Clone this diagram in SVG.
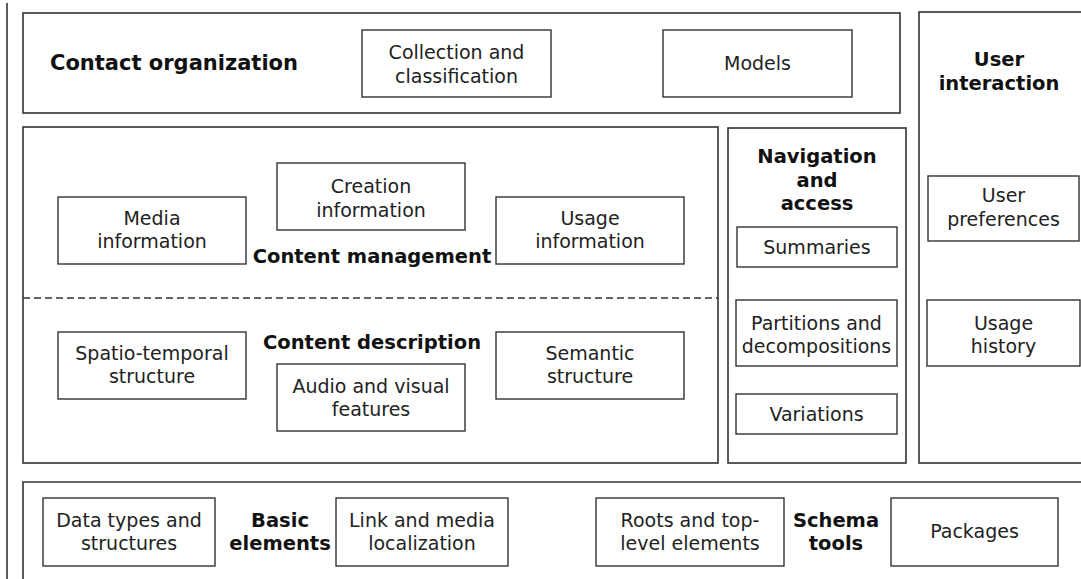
<svg xmlns="http://www.w3.org/2000/svg" width="1081" height="579" viewBox="0 0 1081 579">
<style>
.frame{fill:none;stroke:#333;stroke-width:1.6}
.box{fill:#fff;stroke:#333;stroke-width:1.4}
.t{font-family:"DejaVu Sans","Liberation Sans",sans-serif;font-size:19px;fill:#222;text-anchor:middle}
.b{font-family:"DejaVu Sans","Liberation Sans",sans-serif;font-size:19.5px;font-weight:bold;fill:#111;text-anchor:middle}
</style>
<rect width="1081" height="579" fill="#fff"/>
<line x1="7" y1="3" x2="7" y2="579" stroke="#333" stroke-width="1.6"/>

<g id="contact-organization">
<rect class="frame" x="23" y="13" width="877" height="100"/>
<text class="b" x="174" y="70" style="font-size:21px">Contact organization</text>
</g>
<g id="collection">
<rect class="box" x="362" y="30" width="189" height="67"/>
<text class="t" x="456.5" y="59">Collection and</text>
<text class="t" x="456.5" y="83">classification</text>
</g>
<g id="models">
<rect class="box" x="663" y="30" width="189" height="67"/>
<text class="t" x="757.5" y="70">Models</text>
</g>

<g id="user-interaction">
<rect class="frame" x="919" y="12" width="170" height="451"/>
<text class="b" x="999" y="66">User</text>
<text class="b" x="999" y="90">interaction</text>
</g>
<g id="user-preferences">
<rect class="box" x="928" y="176" width="151" height="65"/>
<text class="t" x="1003.5" y="202">User</text>
<text class="t" x="1003.5" y="226">preferences</text>
</g>
<g id="usage-history">
<rect class="box" x="927" y="300" width="153" height="66"/>
<text class="t" x="1003.5" y="330">Usage</text>
<text class="t" x="1003.5" y="353">history</text>
</g>

<g id="content">
<rect class="frame" x="23" y="127" width="695" height="336"/>
<line x1="23" y1="298" x2="718" y2="298" stroke="#333" stroke-width="1.4" stroke-dasharray="7,4"/>
<text class="b" x="372" y="263">Content management</text>
<text class="b" x="372" y="349">Content description</text>
</g>
<g id="media-information">
<rect class="box" x="58" y="197" width="188" height="67"/>
<text class="t" x="152" y="225">Media</text>
<text class="t" x="152" y="248">information</text>
</g>
<g id="creation-information">
<rect class="box" x="277" y="163" width="188" height="67"/>
<text class="t" x="371" y="193">Creation</text>
<text class="t" x="371" y="217">information</text>
</g>
<g id="usage-information">
<rect class="box" x="496" y="197" width="188" height="67"/>
<text class="t" x="590" y="225">Usage</text>
<text class="t" x="590" y="248">information</text>
</g>
<g id="spatio-temporal">
<rect class="box" x="58" y="332" width="188" height="67"/>
<text class="t" x="152" y="360">Spatio-temporal</text>
<text class="t" x="152" y="383">structure</text>
</g>
<g id="audio-visual">
<rect class="box" x="277" y="364" width="188" height="67"/>
<text class="t" x="371" y="393">Audio and visual</text>
<text class="t" x="371" y="416">features</text>
</g>
<g id="semantic">
<rect class="box" x="496" y="332" width="188" height="67"/>
<text class="t" x="590" y="360">Semantic</text>
<text class="t" x="590" y="383">structure</text>
</g>

<g id="navigation-access">
<rect class="frame" x="728" y="128" width="178" height="335"/>
<text class="b" x="817" y="163">Navigation</text>
<text class="b" x="817" y="187">and</text>
<text class="b" x="817" y="210">access</text>
</g>
<g id="summaries">
<rect class="box" x="737" y="227" width="160" height="40"/>
<text class="t" x="817" y="254">Summaries</text>
</g>
<g id="partitions">
<rect class="box" x="736" y="300" width="161" height="66"/>
<text class="t" x="816.5" y="330">Partitions and</text>
<text class="t" x="816.5" y="353">decompositions</text>
</g>
<g id="variations">
<rect class="box" x="736" y="394" width="161" height="40"/>
<text class="t" x="816.5" y="421">Variations</text>
</g>

<g id="basic-schema">
<path class="frame" d="M23,590 V482 H1090"/>
<text class="b" x="280" y="527">Basic</text>
<text class="b" x="280" y="550">elements</text>
<text class="b" x="836" y="527">Schema</text>
<text class="b" x="836" y="550">tools</text>
</g>
<g id="data-types">
<rect class="box" x="43" y="498" width="172" height="68"/>
<text class="t" x="129" y="527">Data types and</text>
<text class="t" x="129" y="550">structures</text>
</g>
<g id="link-media">
<rect class="box" x="336" y="498" width="172" height="68"/>
<text class="t" x="422" y="527">Link and media</text>
<text class="t" x="422" y="550">localization</text>
</g>
<g id="roots">
<rect class="box" x="596" y="498" width="188" height="68"/>
<text class="t" x="690" y="527">Roots and top-</text>
<text class="t" x="690" y="550">level elements</text>
</g>
<g id="packages">
<rect class="box" x="891" y="498" width="167" height="68"/>
<text class="t" x="974.5" y="538">Packages</text>
</g>
<g id="connectors"></g>
</svg>
